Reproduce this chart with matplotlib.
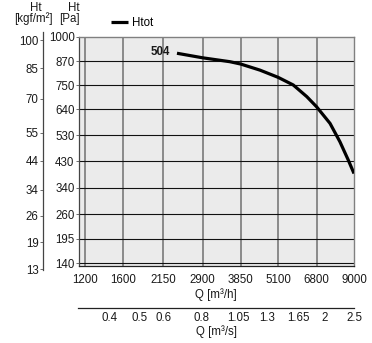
import numpy as np
import matplotlib
matplotlib.use("Agg")
import matplotlib.pyplot as plt
from matplotlib.ticker import FixedLocator, NullLocator, FixedFormatter

plt.rcParams['font.family'] = ['Liberation Sans', 'DejaVu Sans']

# Fan curve (total pressure vs. flow)
flow_m3h = [2390, 2900, 3550, 3850, 4450, 5100, 5710, 6320, 6800, 7520, 8100, 8620, 9000]
htot_pa = [912, 888, 868, 856, 825, 789, 752, 697, 651, 579, 504, 435, 387]
curve_name = "Htot"
model_label = "504"

# Axis tick values
q_h_ticks = [1200, 1600, 2150, 2900, 3850, 5100, 6800, 9000]
q_s_ticks = [0.4, 0.5, 0.6, 0.8, 1.05, 1.3, 1.65, 2, 2.5]
q_s_labels = ["0.4", "0.5", "0.6", "0.8", "1.05", "1.3", "1.65", "2", "2.5"]
pa_ticks = [140, 195, 260, 340, 430, 530, 640, 750, 870, 1000]
kgf_ticks = [13, 19, 26, 34, 44, 55, 70, 85, 100]

G = 9.81
xmin, xmax = 1143, 9000
ymin, ymax = 134, 1000

W, H = 372, 343
PT = 72 / 100  # points per pixel at 100 dpi
fig = plt.figure(figsize=(W / 100, H / 100), dpi=100)
top_px, bot_px = 37, 266
ax = fig.add_axes([78.5 / W, 1 - bot_px / H, (354 - 78.5) / W, (bot_px - top_px) / H])
ax.set_facecolor('#ebebeb')

ax.set_xscale('log')
ax.set_yscale('function', functions=(np.sqrt, np.square))
ax.set_xlim(xmin, xmax)
ax.set_ylim(ymin, ymax)

fs = 8.3
tc = '#1a1a1a'

# grid
for q in q_h_ticks[:-1]:
    ax.axvline(q, color='#7a7a7a', lw=1.2, zorder=1)
for p in pa_ticks[:-1]:
    ax.axhline(p, color='#111111', lw=0.8, zorder=1)

ax.xaxis.set_major_locator(FixedLocator(q_h_ticks))
ax.xaxis.set_major_formatter(FixedFormatter([str(v) for v in q_h_ticks]))
ax.xaxis.set_minor_locator(NullLocator())
ax.yaxis.set_major_locator(FixedLocator(pa_ticks))
ax.yaxis.set_major_formatter(FixedFormatter([str(v) for v in pa_ticks]))
ax.yaxis.set_minor_locator(NullLocator())
ax.tick_params(axis='x', length=0, pad=6, labelsize=fs, labelcolor=tc)
ax.tick_params(axis='y', length=2.2, width=0.6, pad=0.6, labelsize=fs,
               labelcolor=tc, color='#555555')
ax.set_xlabel("Q [m³/h]", fontsize=fs, color=tc, labelpad=1)

for side in ['top', 'right']:
    ax.spines[side].set_color('#808080')
    ax.spines[side].set_linewidth(1.0)
ax.spines['left'].set_color('#444444')
ax.spines['left'].set_linewidth(0.9)
ax.spines['bottom'].set_color('#222222')
ax.spines['bottom'].set_linewidth(0.9)

# curve
ax.plot(flow_m3h, htot_pa, color='black', lw=2.3, solid_capstyle='butt',
        solid_joinstyle='round', zorder=3, label=curve_name)
ax.annotate(model_label, (flow_m3h[0], htot_pa[0]), xytext=(-5, 1),
            textcoords='offset points', ha='right', va='center',
            fontsize=fs, fontweight='bold', color=tc)

ax.legend(loc='center left', bbox_to_anchor=(111 / W, 1 - 23 / H),
          bbox_transform=fig.transFigure, frameon=False, fontsize=fs,
          handlelength=1.5, handletextpad=0.3, borderaxespad=0,
          borderpad=0)

# kgf/m2 axis on the far left (same sqrt mapping, slightly taller spine)
k_top_px, k_bot_px = 32, 270
s_per_px = (np.sqrt(ymax) - np.sqrt(ymin)) / (bot_px - top_px)
k_hi = (np.sqrt(ymax) + (top_px - k_top_px) * s_per_px) ** 2 / G
k_lo = (np.sqrt(ymin) - (k_bot_px - bot_px) * s_per_px) ** 2 / G
axk = fig.add_axes([42.5 / W, 1 - k_bot_px / H, 1 / W, (k_bot_px - k_top_px) / H])
axk.patch.set_visible(False)
axk.set_yscale('function', functions=(np.sqrt, np.square))
axk.set_ylim(k_lo, k_hi)
axk.set_xticks([])
for side in ['top', 'right', 'bottom']:
    axk.spines[side].set_visible(False)
axk.spines['left'].set_color('#444444')
axk.spines['left'].set_linewidth(0.9)
axk.yaxis.set_major_locator(FixedLocator(kgf_ticks))
axk.yaxis.set_major_formatter(FixedFormatter([str(v) for v in kgf_ticks]))
axk.yaxis.set_minor_locator(NullLocator())
axk.tick_params(axis='y', length=2.2, width=0.6, pad=0.6, labelsize=fs,
                labelcolor=tc, color='#555555')

# m3/s axis below
axs = ax.twiny()
axs.set_xscale('log')
axs.set_xlim(xmin / 3600, xmax / 3600)
axs.xaxis.set_ticks_position('bottom')
axs.xaxis.set_label_position('bottom')
axs.spines['bottom'].set_position(('outward', 42 * PT))
for side in ['top', 'right', 'left']:
    axs.spines[side].set_visible(False)
axs.spines['bottom'].set_color('#222222')
axs.spines['bottom'].set_linewidth(0.9)
axs.xaxis.set_major_locator(FixedLocator(q_s_ticks))
axs.xaxis.set_major_formatter(FixedFormatter(q_s_labels))
axs.xaxis.set_minor_locator(NullLocator())
axs.tick_params(axis='x', length=0, pad=3, labelsize=fs, labelcolor=tc)
axs.set_xlabel("Q [m³/s]", fontsize=fs, color=tc, labelpad=1)

# axis headers
fig.text(42 / W, 1 - 8 / H, "Ht", ha='right', va='center', fontsize=fs, color=tc)
fig.text(53 / W, 1 - 19 / H, "[kgf/m²]", ha='right', va='center', fontsize=fs, color=tc)
fig.text(80 / W, 1 - 8 / H, "Ht", ha='right', va='center', fontsize=fs, color=tc)
fig.text(80 / W, 1 - 19 / H, "[Pa]", ha='right', va='center', fontsize=fs, color=tc)

fig.savefig("out.png", dpi=100)
